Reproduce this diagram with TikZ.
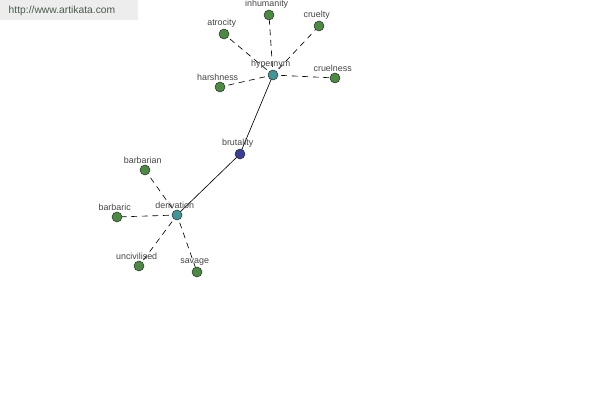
\documentclass[tikz,border=0pt]{standalone}
\usepackage{fontspec}
\setmainfont{Liberation Sans}
\usetikzlibrary{positioning,backgrounds}
\definecolor{LeafColor}{RGB}{76,138,68}
\definecolor{HubColor}{RGB}{64,150,150}
\definecolor{RootColor}{RGB}{58,62,150}
\definecolor{TextColor}{RGB}{68,68,68}
\definecolor{SiteColor}{RGB}{72,92,72}

\begin{document}
\begin{tikzpicture}[x=0.03cm, y=-0.03cm, font=\fontsize{7.6}{8}\selectfont,
    word/.style={circle, draw=black!85, line width=0.4pt, inner sep=0pt, minimum size=0.3cm},
    leaf/.style={word, fill=LeafColor},
    hub/.style={word, fill=HubColor},
    root/.style={word, fill=RootColor},
    tag/.style={text=TextColor, inner sep=0pt, xshift=-2pt},
    link/.style={line width=0.55pt},
    syn/.style={link, dash pattern=on 5pt off 4pt, dash phase=2pt}]
  \useasboundingbox (0,0) rectangle (600,400);
  \fill[black!7] (0,0) rectangle (138,20);
  \node[text=SiteColor, font=\fontsize{8.8}{10}\selectfont] (site) at (62,11) {http://www.artikata.com};
  % centre word and its two hubs
  \node[root, label={[tag, label distance=1pt]above:brutality}] (brutality) at (240,154) {};
  \node[hub, label={[tag, label distance=1pt]above:hypernym}] (hypernym) at (273,75) {};
  \node[hub, label={[tag, label distance=1pt]above:derivation}] (derivation) at (177,215) {};
  % hypernym side
  \node[leaf, label={[tag, label distance=1pt]above:inhumanity}] (inhumanity) at (269,15) {};
  \node[leaf, label={[tag, label distance=1pt]above:atrocity}] (atrocity) at (224,34) {};
  \node[leaf, label={[tag, label distance=1pt]above:cruelty}] (cruelty) at (319,26) {};
  \node[leaf, label={[tag, label distance=1pt]above:harshness}] (harshness) at (220,87) {};
  \node[leaf, label={[tag, label distance=1pt]above:cruelness}] (cruelness) at (335,78) {};
  % derivation side
  \node[leaf, label={[tag, label distance=1pt]above:barbarian}] (barbarian) at (145,170) {};
  \node[leaf, label={[tag, label distance=1pt]above:barbaric}] (barbaric) at (117,217) {};
  \node[leaf, label={[tag, label distance=1pt]above:uncivilised}] (uncivilised) at (139,266) {};
  \node[leaf, label={[tag, label distance=1pt]above:savage}] (savage) at (197,272) {};
  \begin{scope}[on background layer]
    \draw[link] (brutality.center) -- (hypernym.center);
    \draw[link] (brutality.center) -- (derivation.center);
    \foreach \w in {inhumanity,atrocity,cruelty,harshness,cruelness}
      \draw[syn] (hypernym.center) -- (\w.center);
    \foreach \w in {barbarian,barbaric,uncivilised,savage}
      \draw[syn] (derivation.center) -- (\w.center);
  \end{scope}
\end{tikzpicture}
\end{document}
